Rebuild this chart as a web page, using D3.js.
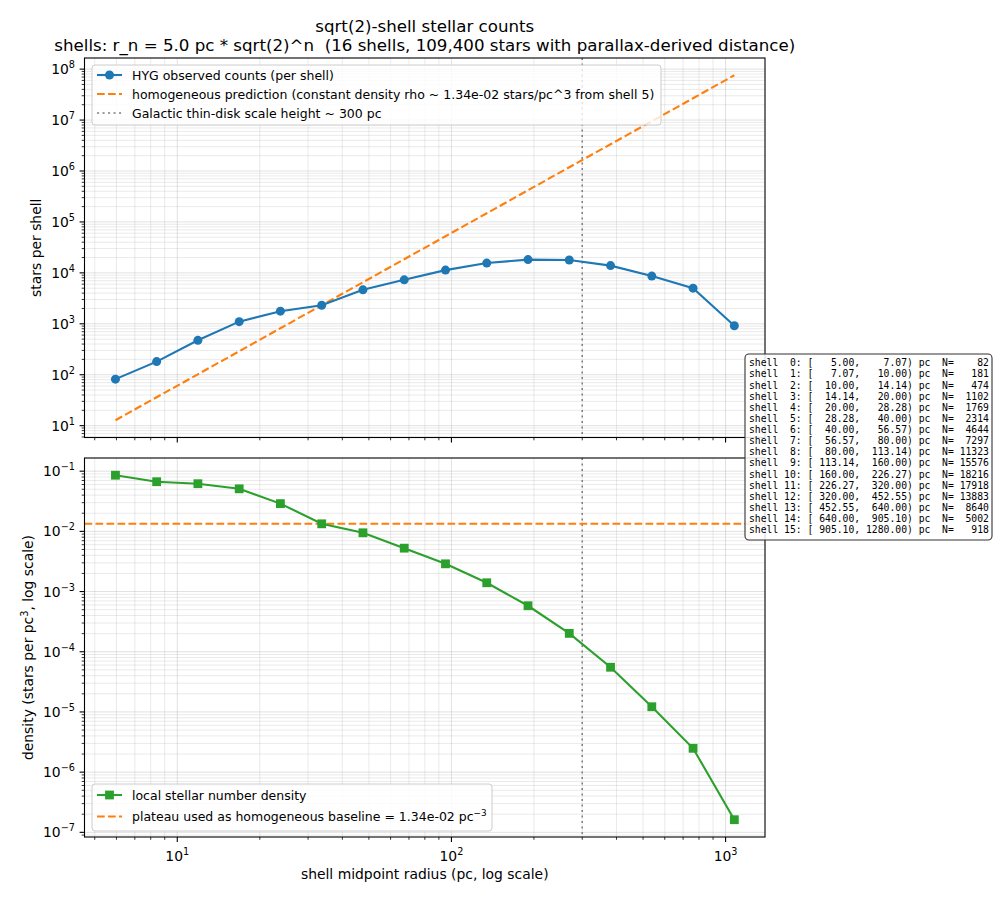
<!DOCTYPE html>
<html><head><meta charset="utf-8">
<script src="https://cdn.jsdelivr.net/npm/d3@7"></script>
<style>
body{margin:0;background:#fff}
svg{display:block}
text{font-family:"DejaVu Sans",sans-serif;fill:#000;white-space:pre}
.mono{font-family:"DejaVu Sans Mono",monospace;white-space:pre}
</style>
</head><body>
<svg id="c" width="1000" height="900"></svg>
<script>
// ---------------- data ----------------
const shellIdx = [0,1,2,3,4,5,6,7,8,9,10,11,12,13,14,15];
const rInner   = [5.00,7.07,10.00,14.14,20.00,28.28,40.00,56.57,80.00,113.14,160.00,226.27,320.00,452.55,640.00,905.10];
const rOuter   = [7.07,10.00,14.14,20.00,28.28,40.00,56.57,80.00,113.14,160.00,226.27,320.00,452.55,640.00,905.10,1280.00];
const rMid     = [5.95,8.41,11.89,16.82,23.78,33.64,47.57,67.27,95.14,134.54,190.27,269.09,380.55,538.18,761.09,1076.35];
const counts   = [82,181,474,1102,1769,2314,4644,7297,11323,15576,18216,17918,13883,8640,5002,918];
const density  = [8.57e-2,6.68e-2,6.19e-2,5.09e-2,2.89e-2,1.335e-2,9.47e-3,5.26e-3,2.89e-3,1.40e-3,5.81e-4,2.02e-4,5.53e-5,1.22e-5,2.49e-6,1.62e-7];
const homogeneous = [12.8,36.2,102,289,818,2314,6545,18510,52360,148100,418900,1.185e6,3.351e6,9.479e6,2.681e7,7.583e7];
const rhoBaseline = 1.34e-2;
const diskScaleHeight = 300;
const xMajorTicks = [10,100,1000];
const topYExps = [1,2,3,4,5,6,7,8];
const botYExps = [-7,-6,-5,-4,-3,-2,-1];

const titleLines = ["sqrt(2)-shell stellar counts",
  "shells: r_n = 5.0 pc * sqrt(2)^n  (16 shells, 109,400 stars with parallax-derived distance)"];
const topLegendLabels = ["HYG observed counts (per shell)",
  "homogeneous prediction (constant density rho ~ 1.34e-02 stars/pc^3 from shell 5)",
  "Galactic thin-disk scale height ~ 300 pc"];
const botLegendLabels = ["local stellar number density",
  "plateau used as homogeneous baseline = 1.34e-02 pc"];

// ---------------- layout ----------------
const C_BLUE="#1f77b4", C_ORANGE="#ff7f0e", C_GREEN="#2ca02c", C_GRAY="#7f7f7f";
const L=84.5, R=765;
const topBox={t:58,b:437.5}, botBox={t:458,b:837};
const svg=d3.select("#c");

const x=d3.scaleLog().domain([Math.pow(10,0.6616),Math.pow(10,3.1438)]).range([L,R]);
const yTop=d3.scaleLog().domain([Math.pow(10,0.7678),Math.pow(10,8.2185)]).range([topBox.b,topBox.t]);
const yBot=d3.scaleLog().domain([Math.pow(10,-7.0776),Math.pow(10,-0.7811)]).range([botBox.b,botBox.t]);

function minorVals(dom){
  const lo=Math.floor(Math.log10(dom[0])), hi=Math.ceil(Math.log10(dom[1]));
  const out=[];
  for(let d=lo; d<=hi; d++) for(let k=2;k<=9;k++){const v=k*Math.pow(10,d); if(v>=dom[0]&&v<=dom[1]) out.push(v);}
  return out;
}
function majorVals(dom){
  const lo=Math.ceil(Math.log10(dom[0])-1e-9), hi=Math.floor(Math.log10(dom[1])+1e-9);
  const out=[]; for(let d=lo; d<=hi; d++) out.push(Math.pow(10,d)); return out;
}
function supLabel(g,xp,yp,exp,anchor){
  const t=g.append("text").attr("x",xp).attr("y",yp).attr("text-anchor",anchor).attr("font-size",13.9);
  t.append("tspan").text("10");
  t.append("tspan").attr("font-size",9.7).attr("dy",-6).text(exp<0?"\u2212"+(-exp):String(exp));
}

function panel(id,y,box,yExps,showXLabels){
  const g=svg.append("g");
  const clip=svg.append("clipPath").attr("id","clip"+id);
  clip.append("rect").attr("x",L).attr("y",box.t).attr("width",R-L).attr("height",box.b-box.t);
  const grid=g.append("g");
  const xd=x.domain(), yd=y.domain();
  minorVals(xd).forEach(v=>grid.append("line").attr("x1",x(v)).attr("x2",x(v)).attr("y1",box.t).attr("y2",box.b)
    .attr("stroke","#b0b0b0").attr("stroke-width",0.7).attr("stroke-opacity",0.38));
  minorVals(yd).forEach(v=>grid.append("line").attr("x1",L).attr("x2",R).attr("y1",y(v)).attr("y2",y(v))
    .attr("stroke","#b0b0b0").attr("stroke-width",0.7).attr("stroke-opacity",0.38));
  majorVals(xd).forEach(v=>grid.append("line").attr("x1",x(v)).attr("x2",x(v)).attr("y1",box.t).attr("y2",box.b)
    .attr("stroke","#b0b0b0").attr("stroke-width",0.9).attr("stroke-opacity",0.42));
  majorVals(yd).forEach(v=>grid.append("line").attr("x1",L).attr("x2",R).attr("y1",y(v)).attr("y2",y(v))
    .attr("stroke","#b0b0b0").attr("stroke-width",0.9).attr("stroke-opacity",0.42));
  const tk=g.append("g").attr("stroke","#000");
  majorVals(xd).forEach(v=>tk.append("line").attr("x1",x(v)).attr("x2",x(v)).attr("y1",box.b).attr("y2",box.b+4.9).attr("stroke-width",1.1));
  minorVals(xd).forEach(v=>tk.append("line").attr("x1",x(v)).attr("x2",x(v)).attr("y1",box.b).attr("y2",box.b+2.8).attr("stroke-width",0.8));
  majorVals(yd).forEach(v=>tk.append("line").attr("x1",L).attr("x2",L-4.9).attr("y1",y(v)).attr("y2",y(v)).attr("stroke-width",1.1));
  minorVals(yd).forEach(v=>tk.append("line").attr("x1",L).attr("x2",L-2.8).attr("y1",y(v)).attr("y2",y(v)).attr("stroke-width",0.8));
  yExps.forEach(e=>supLabel(g,75,y(Math.pow(10,e))+5,e,"end"));
  if(showXLabels) xMajorTicks.forEach(v=>supLabel(g,x(v),861,Math.round(Math.log10(v)),"middle"));
  const plot=g.append("g").attr("clip-path","url(#clip"+id+")");
  return {g,plot};
}

// ---------------- top panel ----------------
const topP=panel("T",yTop,topBox,topYExps,false);
topP.plot.append("line").attr("x1",x(diskScaleHeight)).attr("x2",x(diskScaleHeight)).attr("y1",topBox.t).attr("y2",topBox.b)
  .attr("stroke",C_GRAY).attr("stroke-width",1.5).attr("stroke-dasharray","2.1,3.4");
topP.plot.append("path").datum(shellIdx).attr("fill","none").attr("stroke",C_ORANGE).attr("stroke-width",2.1)
  .attr("stroke-dasharray","7.7,3.3")
  .attr("d",d3.line().x(i=>x(rMid[i])).y(i=>yTop(homogeneous[i])));
topP.plot.append("path").datum(shellIdx).attr("fill","none").attr("stroke",C_BLUE).attr("stroke-width",2.1)
  .attr("d",d3.line().x(i=>x(rMid[i])).y(i=>yTop(counts[i])));
topP.plot.selectAll("circle.m").data(shellIdx).enter().append("circle")
  .attr("cx",i=>x(rMid[i])).attr("cy",i=>yTop(counts[i])).attr("r",4.5).attr("fill",C_BLUE);

// ---------------- bottom panel ----------------
const botP=panel("B",yBot,botBox,botYExps,true);
botP.plot.append("line").attr("x1",x(diskScaleHeight)).attr("x2",x(diskScaleHeight)).attr("y1",botBox.t).attr("y2",botBox.b)
  .attr("stroke",C_GRAY).attr("stroke-width",1.5).attr("stroke-dasharray","2.1,3.4");
botP.plot.append("line").attr("x1",L).attr("x2",R).attr("y1",yBot(rhoBaseline)).attr("y2",yBot(rhoBaseline))
  .attr("stroke",C_ORANGE).attr("stroke-width",2.1).attr("stroke-dasharray","7.7,3.3");
botP.plot.append("path").datum(shellIdx).attr("fill","none").attr("stroke",C_GREEN).attr("stroke-width",2.1)
  .attr("d",d3.line().x(i=>x(rMid[i])).y(i=>yBot(density[i])));
botP.plot.selectAll("rect.m").data(shellIdx).enter().append("rect")
  .attr("x",i=>x(rMid[i])-4.4).attr("y",i=>yBot(density[i])-4.4).attr("width",8.8).attr("height",8.8).attr("fill",C_GREEN);

// spines
[topBox,botBox].forEach(b=>svg.append("rect").attr("x",L).attr("y",b.t).attr("width",R-L).attr("height",b.b-b.t)
  .attr("fill","none").attr("stroke","#000").attr("stroke-width",1.1));

// ---------------- legends ----------------
function legendBox(x0,y0,w,h){
  svg.append("rect").attr("x",x0).attr("y",y0).attr("width",w).attr("height",h).attr("rx",3)
    .attr("fill","#fff").attr("fill-opacity",0.8).attr("stroke","#cccccc").attr("stroke-width",1);
}
const hx0=97, hx1=122, tx=132;
legendBox(92,65,569,60);
let ly=[75,94,113];
svg.append("line").attr("x1",hx0).attr("x2",hx1).attr("y1",ly[0]).attr("y2",ly[0]).attr("stroke",C_BLUE).attr("stroke-width",2.1);
svg.append("circle").attr("cx",(hx0+hx1)/2).attr("cy",ly[0]).attr("r",4.5).attr("fill",C_BLUE);
svg.append("line").attr("x1",hx0).attr("x2",hx1).attr("y1",ly[1]).attr("y2",ly[1]).attr("stroke",C_ORANGE).attr("stroke-width",2.1).attr("stroke-dasharray","7.7,3.3");
svg.append("line").attr("x1",hx0).attr("x2",hx1).attr("y1",ly[2]).attr("y2",ly[2]).attr("stroke",C_GRAY).attr("stroke-width",1.5).attr("stroke-dasharray","2.1,3.4");
topLegendLabels.forEach((s,i)=>svg.append("text").attr("x",tx).attr("y",ly[i]+4.5).attr("font-size",12.5).text(s));

legendBox(92,784,400,47);
ly=[795,816.5];
svg.append("line").attr("x1",hx0).attr("x2",hx1).attr("y1",ly[0]).attr("y2",ly[0]).attr("stroke",C_GREEN).attr("stroke-width",2.1);
svg.append("rect").attr("x",(hx0+hx1)/2-4.4).attr("y",ly[0]-4.4).attr("width",8.8).attr("height",8.8).attr("fill",C_GREEN);
svg.append("line").attr("x1",hx0).attr("x2",hx1).attr("y1",ly[1]).attr("y2",ly[1]).attr("stroke",C_ORANGE).attr("stroke-width",2.1).attr("stroke-dasharray","7.7,3.3");
svg.append("text").attr("x",tx).attr("y",ly[0]+4.5).attr("font-size",12.5).text(botLegendLabels[0]);
const lt=svg.append("text").attr("x",tx).attr("y",ly[1]+4.5).attr("font-size",12.5);
lt.append("tspan").text(botLegendLabels[1]);
lt.append("tspan").attr("font-size",8.8).attr("dy",-5.5).text("\u22123");

// ---------------- titles & labels ----------------
svg.append("text").attr("x",(L+R)/2).attr("y",31.5).attr("text-anchor","middle").attr("font-size",16.67).attr("xml:space","preserve").text(titleLines[0]);
svg.append("text").attr("x",(L+R)/2).attr("y",50.5).attr("text-anchor","middle").attr("font-size",16.67).attr("xml:space","preserve").text(titleLines[1]);
svg.append("text").attr("transform",`translate(41,${(topBox.t+topBox.b)/2}) rotate(-90)`).attr("text-anchor","middle")
  .attr("font-size",13.9).text("stars per shell");
const yl=svg.append("text").attr("transform",`translate(33,${(botBox.t+botBox.b)/2}) rotate(-90)`).attr("text-anchor","middle").attr("font-size",13.9);
yl.append("tspan").text("density (stars per pc");
yl.append("tspan").attr("font-size",9.7).attr("dy",-5.5).text("3");
yl.append("tspan").attr("dy",5.5).text(", log scale)");
svg.append("text").attr("x",(L+R)/2).attr("y",879).attr("text-anchor","middle").attr("font-size",13.9).text("shell midpoint radius (pc, log scale)");

// ---------------- shell table box ----------------
const pad=(s,n)=>String(s).padStart(n," ");
const tableLines=shellIdx.map(i=>`shell ${pad(i,2)}: [${pad(rInner[i].toFixed(2),7)},${pad(rOuter[i].toFixed(2),8)}) pc  N=${pad(counts[i],6)}`);
svg.append("rect").attr("x",745).attr("y",354).attr("width",247).attr("height",186).attr("rx",4)
  .attr("fill","#fff").attr("fill-opacity",0.85).attr("stroke","#333").attr("stroke-width",1.1);
tableLines.forEach((s,i)=>svg.append("text").attr("class","mono").attr("x",749).attr("y",366.3+i*11.12)
  .attr("font-size",9.72).attr("xml:space","preserve").text(s));
</script>
</body></html>
